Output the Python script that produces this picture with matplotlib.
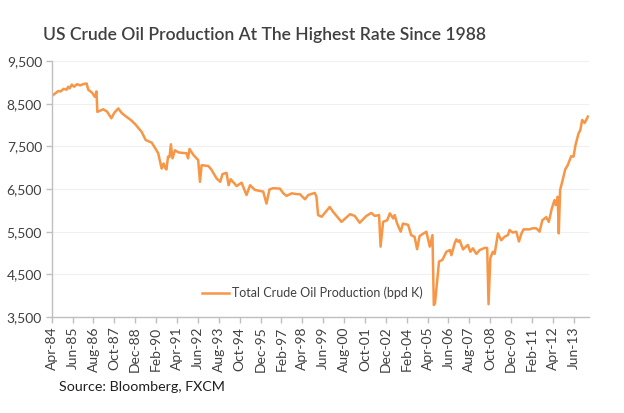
import matplotlib.pyplot as plt

plt.rcParams['font.family'] = ['Lato', 'DejaVu Sans']

# months since Apr-1984, production in thousand barrels per day
months = [0, 3, 4.5, 6, 8, 10, 11, 12, 13.5, 15, 17, 19, 21, 23.4, 24.5, 27, 29, 30, 30.6,
          34.5, 37, 40, 42, 44.6, 47, 50.3, 53, 56, 60.3, 63, 67, 69, 71.4, 73.7, 75, 76,
          76.9, 78, 79, 79.9, 81, 82.6, 85, 87, 90.4, 91.4, 92.4, 95, 98.2, 99.4, 100.5,
          105, 107, 110.5, 113, 114.5, 117.2, 118.6, 120, 124, 127.3, 130.6, 133, 136.2,
          141.8, 144, 146, 148.5, 153, 155.3, 157.4, 161, 164.2, 166.4, 169.8, 172, 176.4,
          177.5, 178.6, 181, 186.4, 188.6, 194.3, 200, 203.2, 206.5, 211, 214.3, 216.6,
          219.5, 220.5, 222.2, 225, 226.7, 229, 230, 231.5, 234, 235.5, 239, 241, 243.3,
          245, 246.7, 251.2, 253.5, 255.3, 256.2, 257, 259.7, 262, 264.6, 267, 268, 270.2,
          271.3, 272.5, 273.5, 275.8, 279, 280.7, 282.4, 284.7, 287, 290.3, 292, 292.9,
          294.1, 295.8, 297, 299.2, 301.4, 303.6, 305.9, 307, 309, 311.5, 313.3, 315,
          316.4, 320.4, 322.6, 324.9, 327.1, 329, 331.6, 333.3, 335.3, 337.1, 338, 339.3,
          340, 340.9, 342.6, 344.3, 346, 348.3, 349.9, 351.2, 353.2, 354.4, 355.7, 357.3,
          358.4, 359.5]
production = [8680, 8760, 8800, 8790, 8850, 8830, 8900, 8860, 8950, 8900, 8960, 8930, 8960,
              8975, 8830, 8760, 8660, 8790, 8310, 8370, 8320, 8160, 8290, 8390, 8280, 8190,
              8120, 8020, 7840, 7650, 7590, 7480, 7340, 6980, 7100, 7000, 6960, 7260, 7250,
              7550, 7220, 7410, 7360, 7350, 7340, 7220, 7440, 7300, 7180, 6670, 7060, 7040,
              6960, 6750, 6670, 6850, 6880, 6590, 6730, 6570, 6650, 6360, 6590, 6480, 6440,
              6160, 6490, 6520, 6510, 6400, 6340, 6400, 6380, 6380, 6260, 6360, 6410, 6320,
              5890, 5850, 6080, 5970, 5730, 5910, 5870, 5710, 5870, 5940, 5870, 5890, 5150,
              5730, 5770, 5930, 5810, 5890, 5700, 5500, 5690, 5660, 5420, 5380, 5090, 5400,
              5500, 5150, 5420, 3780, 3820, 4800, 4840, 5030, 5070, 4950, 5230, 5320, 5265,
              5300, 5085, 5190, 5030, 5110, 4980, 5070, 5120, 5120, 3800, 4880, 5030, 4980,
              5460, 5300, 5380, 5420, 5540, 5480, 5500, 5270, 5460, 5555, 5555, 5580, 5580,
              5500, 5770, 5840, 5730, 6040, 6240, 6125, 6320, 5460, 6480, 6710, 6960, 7060,
              7270, 7260, 7530, 7800, 7880, 8120, 8050, 8120, 8200]

tick_labels = ['Apr-84', 'Jun-85', 'Aug-86', 'Oct-87', 'Dec-88', 'Feb-90', 'Apr-91',
               'Jun-92', 'Aug-93', 'Oct-94', 'Dec-95', 'Feb-97', 'Apr-98', 'Jun-99',
               'Aug-00', 'Oct-01', 'Dec-02', 'Feb-04', 'Apr-05', 'Jun-06', 'Aug-07',
               'Oct-08', 'Dec-09', 'Feb-11', 'Apr-12', 'Jun-13']
tick_pos = [i * 14 for i in range(len(tick_labels))]
y_ticks = [3500, 4500, 5500, 6500, 7500, 8500, 9500]

text_col = '#404040'
fig = plt.figure(figsize=(6.24, 4.13), dpi=100)
ax = fig.add_axes([0.0829, 0.2325, 0.8611, 0.6195])

ax.plot(months, production, color='#F79646', lw=1.8,
        label='Total Crude Oil Production (bpd K)')

ax.set_xlim(0, 360.3)
ax.set_ylim(3500, 9500)
ax.set_yticks(y_ticks)
ax.set_yticklabels([f'{v:,}' for v in y_ticks])
ax.set_xticks(tick_pos)
ax.set_xticklabels(tick_labels, rotation=90)
ax.grid(axis='y', color='#f0f0f0', lw=0.8)
ax.set_axisbelow(True)

for side in ['top', 'right']:
    ax.spines[side].set_visible(False)
for side in ['left', 'bottom']:
    ax.spines[side].set_color('#bfbfbf')
    ax.spines[side].set_linewidth(1.0)
ax.tick_params(axis='both', colors='#bfbfbf', length=4, width=1.0,
               labelcolor=text_col, labelsize=10, direction='out', pad=3)

leg = ax.legend(loc='center', bbox_to_anchor=(0.486, 0.094), frameon=False,
                fontsize=9, handlelength=2.1, handletextpad=0.3)
for t in leg.get_texts():
    t.set_color(text_col)

fig.text(0.069, 0.915, 'US Crude Oil Production At The Highest Rate Since 1988',
         fontsize=12.6, color=text_col, va='center', ha='left', fontweight='semibold')
fig.text(0.095, 0.063, 'Source: Bloomberg, FXCM', fontsize=10.3, color='#202020',
         va='center', ha='left')

fig.savefig('out.png', dpi=100)
